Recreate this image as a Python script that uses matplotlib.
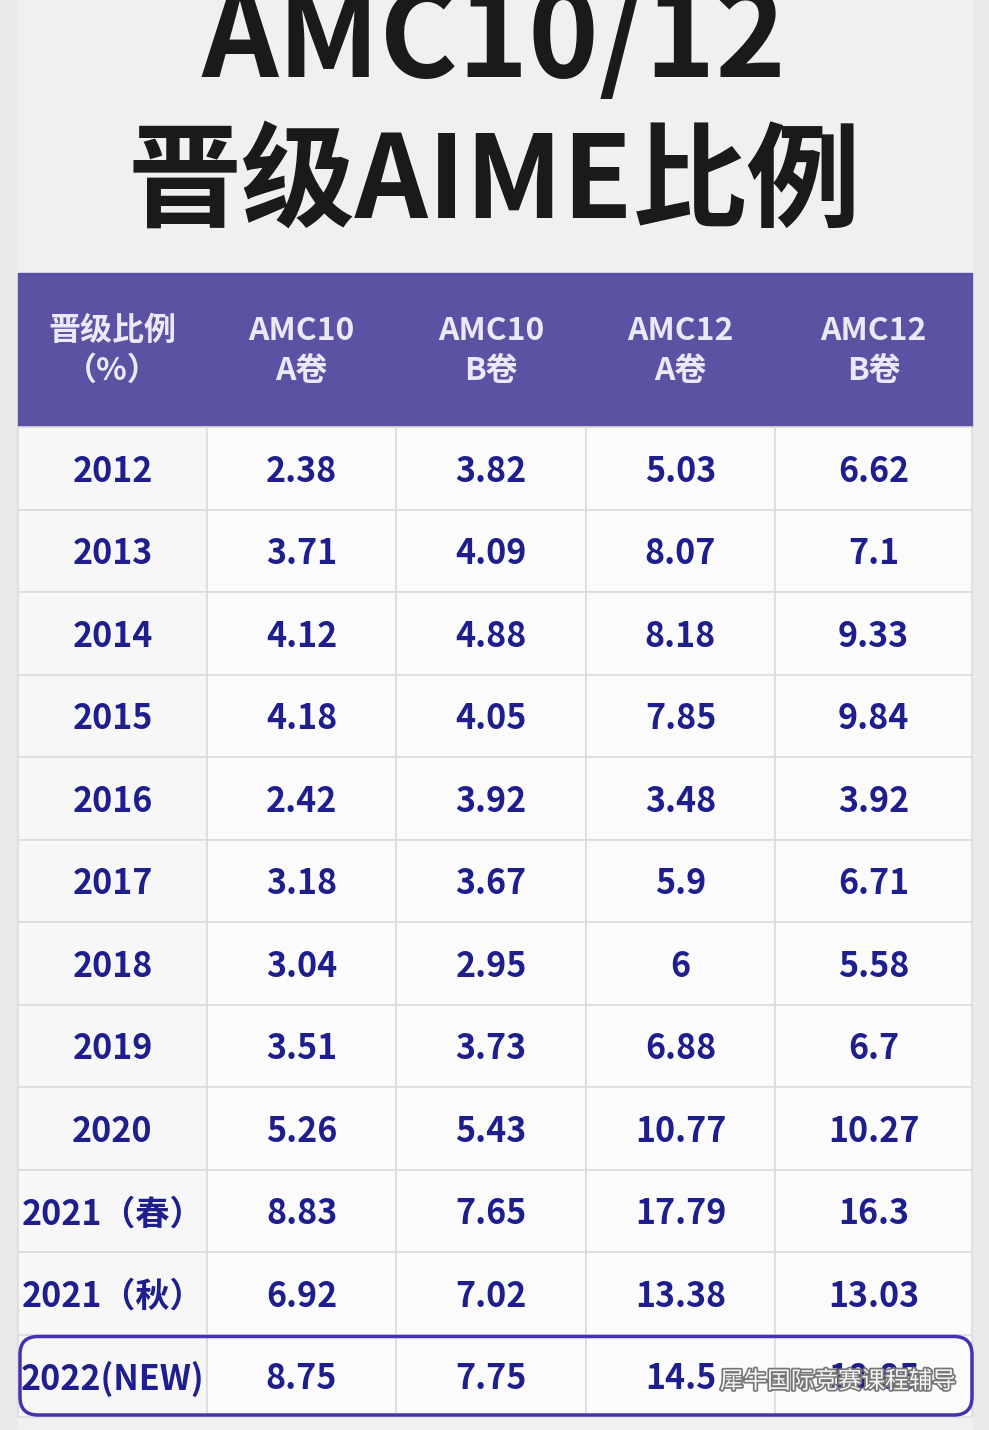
import matplotlib
matplotlib.use("Agg")
import matplotlib.pyplot as plt
import matplotlib.patheffects as pe
from matplotlib.patches import Rectangle, FancyBboxPatch

years = ["2012","2013","2014","2015","2016","2017","2018","2019","2020","2021（春）","2021（秋）","2022(NEW)"]
amc10a = ["2.38","3.71","4.12","4.18","2.42","3.18","3.04","3.51","5.26","8.83","6.92","8.75"]
amc10b = ["3.82","4.09","4.88","4.05","3.92","3.67","2.95","3.73","5.43","7.65","7.02","7.75"]
amc12a = ["5.03","8.07","8.18","7.85","3.48","5.9","6","6.88","10.77","17.79","13.38","14.5"]
amc12b = ["6.62","7.1","9.33","9.84","3.92","6.71","5.58","6.7","10.27","16.3","13.03","18.85"]
headers = ["晋级比例\n（%）","AMC10\nA卷","AMC10\nB卷","AMC12\nA卷","AMC12\nB卷"]

F = ["Noto Sans CJK SC", "Noto Sans CJK JP", "Noto Sans CJK TC", "Noto Sans CJK KR", "DejaVu Sans"]
plt.rcParams["font.family"] = F
W, H = 989, 1430
fig = plt.figure(figsize=(W/100, H/100), dpi=100)
fig.patch.set_facecolor("#e9e9e9")
ax = fig.add_axes([0, 0, 1, 1])
ax.set_xlim(0, W); ax.set_ylim(H, 0); ax.axis("off")
ax.add_patch(Rectangle((18, 0), 954, H, color="#f0f0f0", zorder=0))

ax.text(494, 42, "AMC10/12", ha="center", va="center", fontsize=86, fontweight="bold", color="#1a1a1a")
ax.text(494, 184, "晋级AIME比例", ha="center", va="center", fontsize=82, fontweight="bold", color="#1a1a1a")

xs = [18, 207, 396, 586, 775, 972]
top, hh, rh = 273, 154, 82.5
purple = "#5b52a3"
navy = "#1e1e8c"
ax.add_patch(Rectangle((xs[0], top), xs[-1]-xs[0], hh, color=purple, zorder=1))
for i, h in enumerate(headers):
    ax.text((xs[i]+xs[i+1])/2, top+hh/2+1, h, ha="center", va="center", fontsize=23, fontweight="bold",
            color="#ebe8f7", linespacing=1.3, zorder=3)
cols = [years, amc10a, amc10b, amc12a, amc12b]
y0 = top + hh
for r in range(len(years)):
    yy = y0 + r*rh
    for c in range(5):
        ax.add_patch(Rectangle((xs[c], yy), xs[c+1]-xs[c], rh, facecolor="#fbfbfb" if c else "#f7f7f7",
                               edgecolor="#dcdcdc", lw=1.2, zorder=1))
        ax.text((xs[c]+xs[c+1])/2, yy+rh/2+3, cols[c][r], ha="center", va="center",
                fontsize=24.5, fontweight="bold", color=navy, zorder=3)
last = y0 + (len(years)-1)*rh
ax.add_patch(FancyBboxPatch((20, last+2), 952, rh-4, boxstyle="round,pad=0,rounding_size=18",
                            fill=False, edgecolor="#4a2fb0", lw=2.5, zorder=4))
ax.text(838, last+rh/2+6, "犀牛国际竞赛课程辅导", ha="center", va="center", fontsize=17,
        color="#f8f8f8", zorder=5,
        path_effects=[pe.withStroke(linewidth=2.5, foreground="#777777")])
fig.savefig("out.png", dpi=100, facecolor=fig.get_facecolor())
